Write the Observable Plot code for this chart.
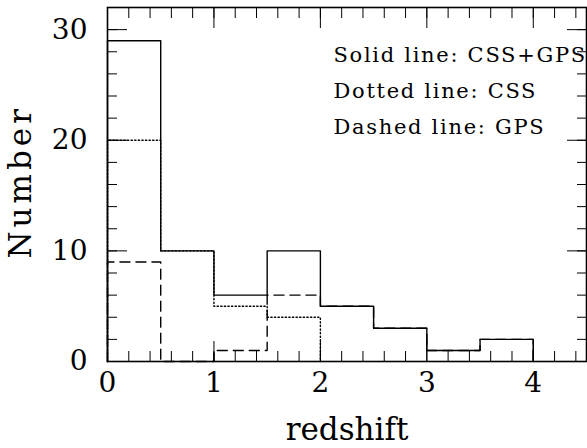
<!DOCTYPE html>
<html><head><meta charset="utf-8">
<script src="https://cdn.jsdelivr.net/npm/d3@7"></script>
<script src="https://cdn.jsdelivr.net/npm/@observablehq/plot@0.6"></script>
<style>body{margin:0;background:#fff}</style>
</head><body><div id="chart"></div>
<script>
// Histogram bin edges (redshift) and counts
const binEdges = [0, 0.5, 1, 1.5, 2, 2.5, 3, 3.5, 4];
const totalCounts = [29, 10, 6, 10, 5, 3, 1, 2];   // CSS+GPS (solid)
const cssCounts   = [20, 10, 5, 4];                 // CSS (dotted), ends at z=2
const gpsCounts   = [9, 0, 1, 6, 5, 3, 1, 2];       // GPS (dashed)

const xMajorTicks = [0, 1, 2, 3, 4];
const xMinorTicks = [0, 0.2, 0.4, 0.6, 0.8, 1, 1.2, 1.4, 1.6, 1.8, 2, 2.2, 2.4, 2.6, 2.8, 3, 3.2, 3.4, 3.6, 3.8, 4, 4.2, 4.4];
const yMajorTicks = [0, 10, 20, 30];
const yMinorTicks = [0, 2, 4, 6, 8, 10, 12, 14, 16, 18, 20, 22, 24, 26, 28, 30, 32];

const xLabel = "redshift";
const yLabel = "Number";
const legendLines = ["Solid line: CSS+GPS", "Dotted line: CSS", "Dashed line: GPS"];

function steps(counts) {
  const pts = [{x: binEdges[0], y: 0}];
  counts.forEach((c, i) => pts.push({x: binEdges[i], y: c}));
  pts.push({x: binEdges[counts.length], y: 0});
  return pts;
}

const font = "DejaVu Serif";
const sw = 1.4;

const chart = Plot.plot({
  width: 587, height: 448,
  marginLeft: 107, marginRight: 1, marginTop: 7, marginBottom: 87,
  x: {domain: [0, 4.5], axis: null},
  y: {domain: [0, 32], axis: null},
  style: {fontFamily: font, background: "white", color: "black"},
  marks: [
    // histograms
    Plot.lineY(steps(gpsCounts), {x: "x", y: "y", curve: "step-after", stroke: "black", strokeWidth: sw, strokeDasharray: "10,6"}),
    Plot.lineY(steps(cssCounts), {x: "x", y: "y", curve: "step-after", stroke: "black", strokeWidth: sw, strokeDasharray: "1.3,2.3"}),
    Plot.lineY(steps(totalCounts), {x: "x", y: "y", curve: "step-after", stroke: "black", strokeWidth: sw}),
    // inward ticks on all sides
    Plot.axisX(xMinorTicks, {anchor: "bottom", tickSize: -10, tickFormat: () => "", label: null, strokeWidth: 1}),
    Plot.axisX(xMinorTicks, {anchor: "top", tickSize: -10, tickFormat: () => "", label: null, strokeWidth: 1}),
    Plot.axisX(xMajorTicks, {anchor: "bottom", tickSize: -20, tickFormat: () => "", label: null, strokeWidth: 1}),
    Plot.axisX(xMajorTicks, {anchor: "top", tickSize: -20, tickFormat: () => "", label: null, strokeWidth: 1}),
    Plot.axisY(yMinorTicks, {anchor: "left", tickSize: -10, tickFormat: () => "", label: null, strokeWidth: 1}),
    Plot.axisY(yMinorTicks, {anchor: "right", tickSize: -10, tickFormat: () => "", label: null, strokeWidth: 1}),
    Plot.axisY(yMajorTicks, {anchor: "left", tickSize: -20, tickFormat: () => "", label: null, strokeWidth: 1}),
    Plot.axisY(yMajorTicks, {anchor: "right", tickSize: -20, tickFormat: () => "", label: null, strokeWidth: 1}),
    // tick labels
    Plot.axisX(xMajorTicks, {anchor: "bottom", tickSize: 0, tickPadding: 11, fontSize: 28, label: null}),
    Plot.axisY(yMajorTicks, {anchor: "left", tickSize: 0, tickPadding: 20, fontSize: 28, label: null}),
    // axis titles
    Plot.text([xLabel], {text: d => d, frameAnchor: "bottom", dy: 78, fontSize: 31}),
    Plot.text([yLabel], {text: d => d, frameAnchor: "left", dx: -86, dy: 74, rotate: -90, fontSize: 31}),
    // legend
    Plot.text([legendLines.join("\n")], {text: d => d, frameAnchor: "top-left", dx: 226, dy: 29, lineAnchor: "top", textAnchor: "start", fontSize: 21, lineHeight: 36 / 21}),
    Plot.frame({stroke: "black", strokeWidth: 1.6})
  ]
});
// widen letter spacing to mimic the wide original plotting font
d3.select(chart).selectAll("text").each(function () {
  const t = this.textContent;
  if (t === yLabel) this.style.letterSpacing = "4px";
  else if (legendLines.some(l => t.includes(l))) this.style.letterSpacing = "1.7px";
});
document.getElementById("chart").appendChild(chart);
</script>
</body></html>
